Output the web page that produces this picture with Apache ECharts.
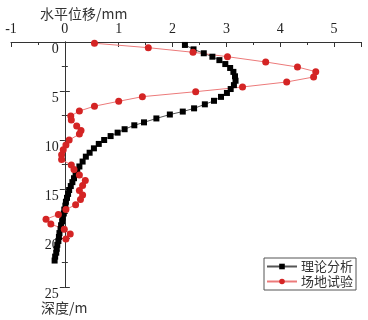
<!DOCTYPE html>
<html>
<head>
<meta charset="utf-8">
<script src="https://cdn.jsdelivr.net/npm/echarts@6/dist/echarts.min.js"></script>
<style>
  html, body { margin: 0; padding: 0; background: #fff; }
  #chart { width: 368px; height: 320px; }
</style>
</head>
<body>
<div id="chart"></div>
<script>
// theory curve: depth (m) and horizontal displacement (mm)
const theoryDepth = [0.3, 0.75, 1.15, 1.5, 1.85, 2.25, 2.65, 3.05, 3.5, 3.95, 4.4, 4.8, 5.2, 5.6, 6.0, 6.36, 6.77, 7.1, 7.4, 7.8, 8.2, 8.5, 8.9, 9.25, 9.6, 10.0, 10.4, 10.85, 11.3, 11.7, 12.2, 12.7, 13.1, 13.5, 13.9, 14.3, 14.7, 15.1, 15.5, 15.9, 16.3, 16.7, 17.1, 17.5, 17.9, 18.3, 18.7, 19.1, 19.5, 19.9, 20.3, 20.7, 21.1, 21.5, 21.9, 22.3];
const theoryDisp = [2.23, 2.39, 2.58, 2.74, 2.87, 2.98, 3.07, 3.13, 3.16, 3.17, 3.14, 3.08, 3.01, 2.9, 2.77, 2.6, 2.4, 2.19, 1.95, 1.7, 1.47, 1.29, 1.11, 0.98, 0.85, 0.73, 0.63, 0.54, 0.46, 0.39, 0.33, 0.27, 0.23, 0.2, 0.17, 0.14, 0.11, 0.08, 0.06, 0.04, 0.02, 0.01, -0.01, -0.02, -0.04, -0.05, -0.07, -0.08, -0.1, -0.11, -0.12, -0.14, -0.15, -0.16, -0.18, -0.19];

// field test
const fieldDepth = [0.13, 0.58, 1.05, 1.5, 2.04, 2.55, 3.03, 3.57, 4.08, 4.59, 5.07, 5.58, 6.05, 6.55, 7.04, 7.55, 7.95, 8.57, 9.02, 9.4, 10.0, 10.5, 11.0, 11.5, 12.0, 12.55, 13.0, 13.57, 14.12, 14.65, 15.15, 15.6, 16.07, 16.6, 17.1, 17.6, 18.08, 18.58, 19.1, 19.6, 20.1];
const fieldDisp = [0.55, 1.55, 2.38, 3.02, 3.73, 4.32, 4.66, 4.62, 4.12, 3.3, 2.43, 1.44, 1.0, 0.55, 0.27, 0.11, 0.12, 0.22, 0.3, 0.27, 0.08, 0.02, -0.03, -0.06, -0.06, 0.12, 0.17, 0.27, 0.38, 0.33, 0.27, 0.33, 0.29, 0.2, 0.02, -0.12, -0.35, -0.26, -0.01, 0.1, 0.02];

const seriesNames = ["理论分析", "场地试验"];
const xName = "水平位移/mm";
const yName = "深度/m";

const serif = "Liberation Serif";
const cjk = "Noto Sans CJK SC";

// grid: x from -1 to 5.5 over 350px, the depth axis sits at x = 0
const gridLeft = 11, gridRight = 7;
const xMin = -1, xMax = 5.5;
const plotW = 368 - gridLeft - gridRight;
const zeroOff = plotW * (0 - xMin) / (xMax - xMin);

function pairs(xs, ys) {
  return xs.map((x, i) => [x, ys[i]]);
}

const yBase = {
  type: "value",
  inverse: true,
  min: 0,
  max: 25,
  interval: 5,
  splitLine: { show: false },
  axisLine: { onZero: false, lineStyle: { color: "#333", width: 1 } },
  axisTick: { length: 5, lineStyle: { color: "#333" } },
  minorTick: { show: true, splitNumber: 2, length: 3, lineStyle: { color: "#333" } },
};

const chart = echarts.init(document.getElementById("chart"));

chart.setOption({
  animation: false,
  grid: { left: gridLeft, right: gridRight, top: 42, bottom: 33, outerBoundsMode: "none", containLabel: false },
  xAxis: {
    type: "value",
    position: "top",
    min: xMin,
    max: xMax,
    interval: 1,
    splitLine: { show: false },
    axisLine: { onZero: false, lineStyle: { color: "#333", width: 1 } },
    axisTick: { inside: true, length: 5, lineStyle: { color: "#333" } },
    minorTick: { show: true, splitNumber: 2, length: 3, lineStyle: { color: "#333" } },
    axisLabel: {
      margin: 6,
      fontFamily: serif,
      fontSize: 14,
      color: "#222",
      customValues: [-1, 0, 1, 2, 3, 4, 5],
    },
  },
  yAxis: [
    // labels and left half of the ticks
    Object.assign({}, yBase, {
      position: "left",
      offset: -zeroOff,
      axisLabel: {
        margin: 6,
        fontFamily: serif,
        fontSize: 14,
        color: "#222",
        verticalAlign: "top",
      },
    }),
    // right half of the ticks
    Object.assign({}, yBase, {
      position: "right",
      offset: -(plotW - zeroOff),
      axisLabel: { show: false },
    }),
  ],
  legend: {
    orient: "vertical",
    left: 264,
    top: 258,
    padding: [2, 3, 2, 2],
    itemGap: 2,
    itemWidth: 30,
    itemHeight: 7,
    borderColor: "#555",
    borderWidth: 1,
    borderRadius: 0,
    textStyle: { fontFamily: cjk, fontSize: 13, color: "#333", padding: [0, 0, 0, -1] },
    data: seriesNames,
  },
  graphic: [
    {
      type: "text",
      left: 40,
      top: 7,
      style: { text: xName, fontFamily: cjk, fontSize: 14, fill: "#333" },
    },
    {
      type: "text",
      left: 41,
      top: 301,
      style: { text: yName, fontFamily: cjk, fontSize: 14, fill: "#333" },
    },
  ],
  series: [
    {
      name: seriesNames[0],
      type: "line",
      data: pairs(theoryDisp, theoryDepth),
      symbol: "rect",
      symbolSize: 6,
      itemStyle: { color: "#000" },
      lineStyle: { color: "#555", width: 1 },
    },
    {
      name: seriesNames[1],
      type: "line",
      data: pairs(fieldDisp, fieldDepth),
      symbol: "circle",
      symbolSize: 7,
      itemStyle: { color: "#d42424" },
      lineStyle: { color: "#ec7a7a", width: 1 },
    },
  ],
});
</script>
</body>
</html>
